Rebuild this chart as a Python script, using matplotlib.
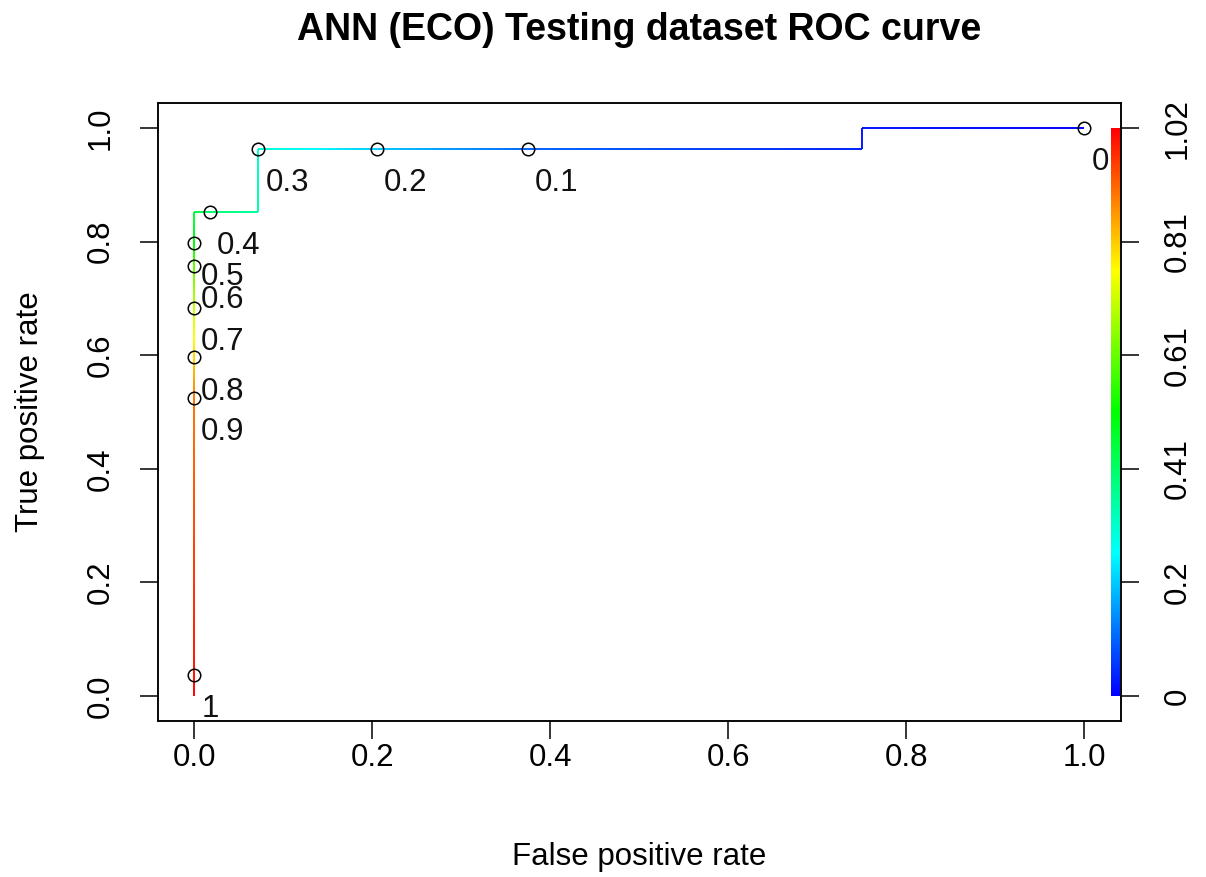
import numpy as np
import matplotlib
matplotlib.use("Agg")
import matplotlib.pyplot as plt
from matplotlib.collections import LineCollection
from matplotlib.colors import hsv_to_rgb

plt.rcParams['font.family'] = ['Liberation Sans', 'DejaVu Sans']

# ROC curve vertices (false positive rate, true positive rate) and the cutoff at each
curve_fpr = [0.0, 0.0, 0.0, 0.0, 0.0, 0.0, 0.0, 0.0, 0.018, 0.072, 0.072, 0.205, 0.375, 0.75, 0.75, 1.0]
curve_tpr = [0.0, 0.037, 0.524, 0.596, 0.684, 0.757, 0.798, 0.852, 0.852, 0.852, 0.963, 0.963, 0.963, 0.963, 1.0, 1.0]
curve_cut = [1.016, 1.0, 0.9, 0.8, 0.7, 0.6, 0.5, 0.45, 0.4, 0.35, 0.3, 0.2, 0.1, 0.03, 0.02, 0.0]

# printed cutoffs
pt_labels = ['1', '0.9', '0.8', '0.7', '0.6', '0.5', '0.4', '0.3', '0.2', '0.1', '0']
pt_fpr = [0.0, 0.0, 0.0, 0.0, 0.0, 0.0, 0.018, 0.072, 0.205, 0.375, 1.0]
pt_tpr = [0.037, 0.524, 0.596, 0.684, 0.757, 0.798, 0.852, 0.963, 0.963, 0.963, 1.0]

cut_max = 1.016
cbar_labels = ['0', '0.2', '0.41', '0.61', '0.81', '1.02']
axis_ticks = [0.0, 0.2, 0.4, 0.6, 0.8, 1.0]
axis_ticklabels = ['0.0', '0.2', '0.4', '0.6', '0.8', '1.0']

title = 'ANN (ECO) Testing dataset ROC curve'
FS = 22.5


def rainbow(c):
    c = np.asarray(c, dtype=float)
    h = (1 - np.clip(c / cut_max, 0, 1)) * 2 / 3
    one = np.ones_like(h)
    return hsv_to_rgb(np.stack([h, one, one], axis=-1))


fig = plt.figure(figsize=(12.06, 8.77), dpi=100)
ax = fig.add_axes([0.1308, 0.1782, 0.7987, 0.704])

# coloured curve, each leg split into short pieces so the colour runs smoothly
segs, cols = [], []
t = np.linspace(0, 1, 41)
for i in range(len(curve_fpr) - 1):
    xs = curve_fpr[i] + (curve_fpr[i + 1] - curve_fpr[i]) * t
    ys = curve_tpr[i] + (curve_tpr[i + 1] - curve_tpr[i]) * t
    cs = curve_cut[i] + (curve_cut[i + 1] - curve_cut[i]) * t
    for j in range(len(t) - 1):
        segs.append([(xs[j], ys[j]), (xs[j + 1], ys[j + 1])])
        cols.append((cs[j] + cs[j + 1]) / 2)
lc = LineCollection(segs, colors=rainbow(cols), linewidths=1.4, capstyle='butt')
ax.add_collection(lc)

ax.plot(pt_fpr, pt_tpr, 'o', mfc='none', mec='black', ms=9, mew=1.1, zorder=3)
for lab, x, y in zip(pt_labels, pt_fpr, pt_tpr):
    ax.annotate(lab, (x, y), xytext=(5, -24.5), textcoords='offset points',
                ha='left', va='center', fontsize=FS, color='#111111')

# colour key along the right edge
grad = np.linspace(0, cut_max, 256).reshape(-1, 1)
ax.imshow(rainbow(grad), extent=[1.030, 1.039, 0, 1], origin='lower',
          aspect='auto', interpolation='bilinear', zorder=2)

ax.set_xlim(-0.041, 1.041)
ax.set_ylim(-0.0435, 1.0435)
ax.set_xticks(axis_ticks)
ax.set_xticklabels(axis_ticklabels)
ax.set_yticks(axis_ticks)
ax.set_yticklabels(axis_ticklabels, rotation=90, va='center')
ax.tick_params(axis='x', length=13, width=1.1, labelsize=FS, pad=3)
ax.tick_params(axis='y', length=13, width=1.1, labelsize=FS, pad=17)
for s in ax.spines.values():
    s.set_linewidth(1.1)

ax2 = ax.twinx()
ax2.set_ylim(ax.get_ylim())
ax2.set_yticks(axis_ticks)
ax2.set_yticklabels(cbar_labels, rotation=90, va='center')
ax2.tick_params(axis='y', length=13, width=1.1, labelsize=FS, pad=17)
for s in ax2.spines.values():
    s.set_linewidth(1.1)

fig.text(0.5302, 0.966, title, ha='center', va='center', fontsize=27, fontweight='bold')
fig.text(0.5302, 0.0228, 'False positive rate', ha='center', va='center', fontsize=FS)
fig.text(0.0249, 0.5308, 'True positive rate', ha='center', va='center', rotation=90, fontsize=FS)

fig.savefig('out.png', dpi=100)
